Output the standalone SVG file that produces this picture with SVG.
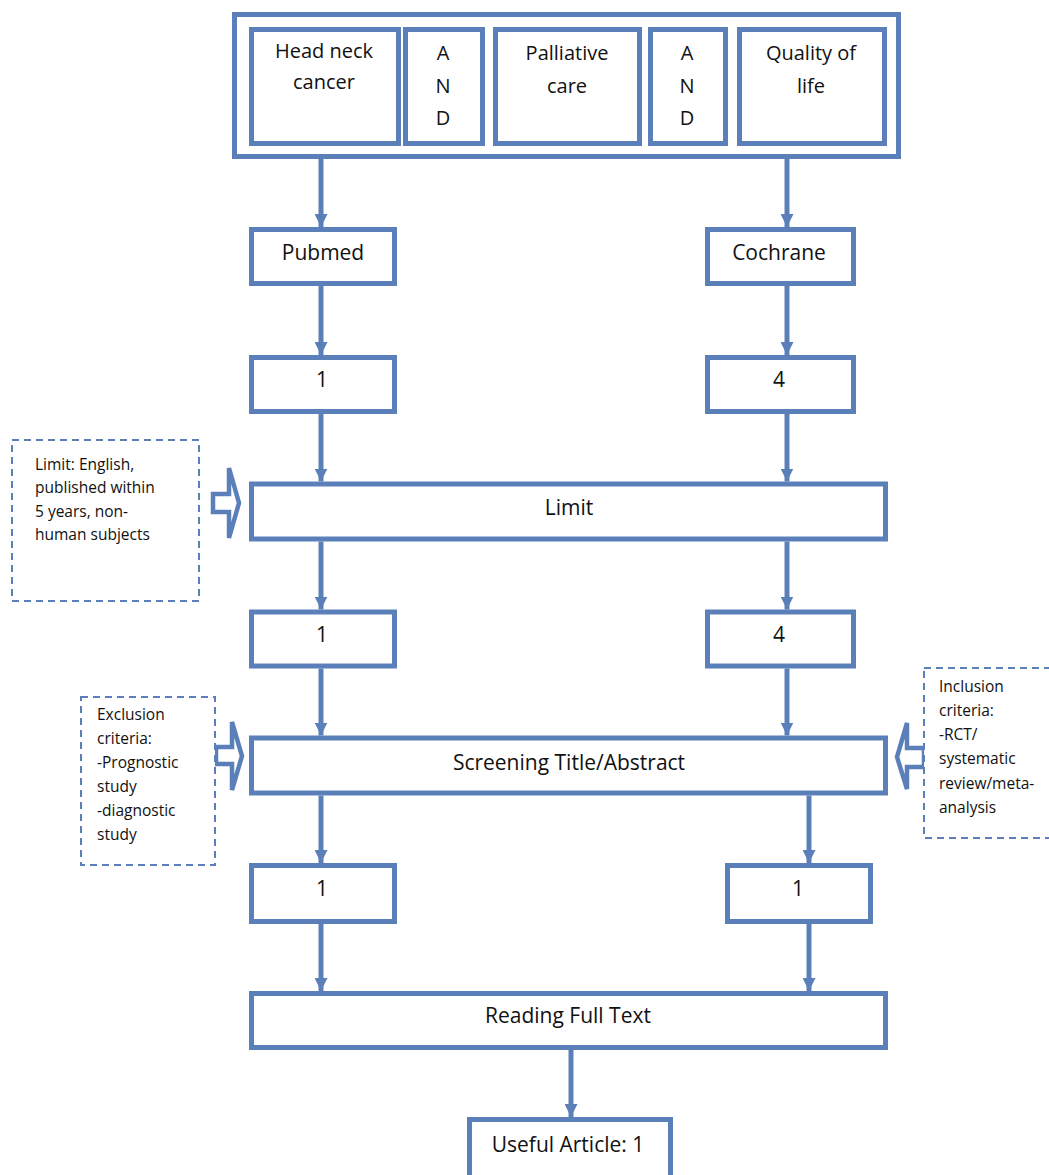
<svg xmlns="http://www.w3.org/2000/svg" width="1049" height="1175" viewBox="0 0 1049 1175">
<style>
.box{fill:#ffffff;stroke:#5b80b9;stroke-width:5}
.dash{fill:#ffffff;stroke:#5b80b9;stroke-width:2;stroke-dasharray:7 5}
.blk{fill:#ffffff;stroke:#5b80b9;stroke-width:4.5;stroke-linejoin:miter}
.con{stroke:#5b80b9;stroke-width:5;fill:none}
text{font-family:"Open Sans","Liberation Sans",sans-serif;fill:#111111}
.lg{font-size:21px;text-anchor:middle}
.md{font-size:20px;text-anchor:middle}
.sm{font-size:15.5px}
</style>
<defs>
<marker id="ah" viewBox="0 0 13 13" refX="13" refY="6.5" markerWidth="13" markerHeight="13" markerUnits="userSpaceOnUse" orient="auto">
<path d="M0,0 L13,6.5 L0,13 Z" fill="#5b80b9"/>
</marker>
</defs>
<rect id="bg" x="0" y="0" width="1049" height="1175" fill="#ffffff"/>

<g id="connectors">
<line class="con" x1="321" y1="159" x2="321" y2="227" marker-end="url(#ah)"/>
<line class="con" x1="787" y1="159" x2="787" y2="227" marker-end="url(#ah)"/>
<line class="con" x1="321" y1="286" x2="321" y2="355" marker-end="url(#ah)"/>
<line class="con" x1="787" y1="286" x2="787" y2="355" marker-end="url(#ah)"/>
<line class="con" x1="321" y1="414" x2="321" y2="481.5" marker-end="url(#ah)"/>
<line class="con" x1="787" y1="414" x2="787" y2="481.5" marker-end="url(#ah)"/>
<line class="con" x1="321" y1="541.5" x2="321" y2="609.5" marker-end="url(#ah)"/>
<line class="con" x1="787" y1="541.5" x2="787" y2="609.5" marker-end="url(#ah)"/>
<line class="con" x1="321" y1="668.5" x2="321" y2="735.5" marker-end="url(#ah)"/>
<line class="con" x1="787" y1="668.5" x2="787" y2="735.5" marker-end="url(#ah)"/>
<line class="con" x1="321" y1="795.5" x2="321" y2="863" marker-end="url(#ah)"/>
<line class="con" x1="809" y1="795.5" x2="809" y2="863" marker-end="url(#ah)"/>
<line class="con" x1="321" y1="924" x2="321" y2="991" marker-end="url(#ah)"/>
<line class="con" x1="809" y1="924" x2="809" y2="991" marker-end="url(#ah)"/>
<line class="con" x1="571" y1="1050" x2="571" y2="1117" marker-end="url(#ah)"/>
<path class="blk" d="M213,494 H229 V468 L239,503 L229,538 V512 H213 Z"/>
<path class="blk" d="M216,747 H232 V722 L242,756 L232,790 V764 H216 Z"/>
<path class="blk" d="M924,748 H907 V723 L897,757 L907,789 V767 H924 Z"/>
</g>

<g id="search-terms">
<rect class="box" x="234.5" y="14.5" width="664" height="142"/>
<g id="head-neck-cancer">
<rect class="box" x="251.5" y="29.5" width="147" height="114"/>
<text class="md" x="324" y="58">Head neck</text>
<text class="md" x="324" y="89">cancer</text>
</g>
<g id="and-1">
<rect class="box" x="405.5" y="29.5" width="77" height="114"/>
<text class="md" x="443" y="60">A</text>
<text class="md" x="443" y="93">N</text>
<text class="md" x="443" y="125">D</text>
</g>
<g id="palliative-care">
<rect class="box" x="495.5" y="29.5" width="144" height="114"/>
<text class="md" x="567" y="60">Palliative</text>
<text class="md" x="567" y="93">care</text>
</g>
<g id="and-2">
<rect class="box" x="650.5" y="29.5" width="75" height="114"/>
<text class="md" x="687" y="60">A</text>
<text class="md" x="687" y="93">N</text>
<text class="md" x="687" y="125">D</text>
</g>
<g id="quality-of-life">
<rect class="box" x="739.5" y="29.5" width="145" height="114"/>
<text class="md" x="811" y="60">Quality of</text>
<text class="md" x="811" y="93">life</text>
</g>
</g>

<g id="pubmed">
<rect class="box" x="251.5" y="229.5" width="143" height="54"/>
<text class="lg" x="323" y="260">Pubmed</text>
</g>
<g id="cochrane">
<rect class="box" x="707.5" y="229.5" width="146" height="54"/>
<text class="lg" x="779" y="260">Cochrane</text>
</g>

<g id="pubmed-count-1">
<rect class="box" x="251.5" y="357.5" width="143" height="54"/>
<text class="lg" x="322" y="387">1</text>
</g>
<g id="cochrane-count-1">
<rect class="box" x="707.5" y="357.5" width="146" height="54"/>
<text class="lg" x="779" y="387">4</text>
</g>

<g id="limit">
<rect class="box" x="251.5" y="484" width="634" height="55"/>
<text class="lg" x="569" y="515">Limit</text>
</g>

<g id="limit-note">
<rect class="dash" x="12" y="440" width="187" height="161"/>
<text class="sm" x="35" y="470">Limit: English,</text>
<text class="sm" x="35" y="493">published within</text>
<text class="sm" x="35" y="517">5 years, non-</text>
<text class="sm" x="35" y="540">human subjects</text>
</g>

<g id="pubmed-count-2">
<rect class="box" x="251.5" y="612" width="143" height="54"/>
<text class="lg" x="322" y="642">1</text>
</g>
<g id="cochrane-count-2">
<rect class="box" x="707.5" y="612" width="146" height="54"/>
<text class="lg" x="779" y="642">4</text>
</g>

<g id="screening">
<rect class="box" x="251.5" y="738" width="634" height="55"/>
<text class="lg" x="569" y="770">Screening Title/Abstract</text>
</g>

<g id="exclusion-note">
<rect class="dash" x="81" y="697" width="134" height="168"/>
<text class="sm" x="97" y="720">Exclusion</text>
<text class="sm" x="97" y="744">criteria:</text>
<text class="sm" x="97" y="768">-Prognostic</text>
<text class="sm" x="97" y="792">study</text>
<text class="sm" x="97" y="816">-diagnostic</text>
<text class="sm" x="97" y="840">study</text>
</g>

<g id="inclusion-note">
<rect class="dash" x="924" y="668" width="135" height="170"/>
<text class="sm" x="939" y="692">Inclusion</text>
<text class="sm" x="939" y="716">criteria:</text>
<text class="sm" x="939" y="740">-RCT/</text>
<text class="sm" x="939" y="764">systematic</text>
<text class="sm" x="939" y="789">review/meta-</text>
<text class="sm" x="939" y="813">analysis</text>
</g>

<g id="pubmed-count-3">
<rect class="box" x="251.5" y="865.5" width="143" height="56"/>
<text class="lg" x="322" y="896">1</text>
</g>
<g id="cochrane-count-3">
<rect class="box" x="727.5" y="865.5" width="143" height="56"/>
<text class="lg" x="798" y="896">1</text>
</g>

<g id="reading">
<rect class="box" x="251.5" y="993.5" width="634" height="54"/>
<text class="lg" x="568" y="1023">Reading Full Text</text>
</g>

<g id="useful-article">
<rect class="box" x="469.5" y="1119.5" width="201" height="80"/>
<text class="lg" x="568" y="1152">Useful Article: 1</text>
</g>
</svg>
